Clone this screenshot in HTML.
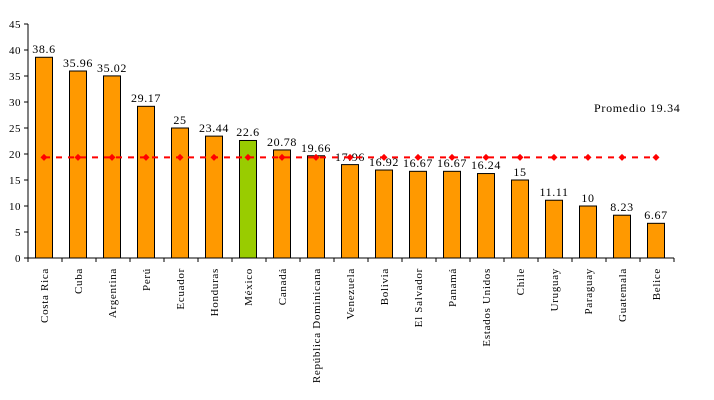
<!DOCTYPE html>
<html><head><meta charset="utf-8"><style>
html,body{margin:0;padding:0;background:#fff;}
svg{display:block;font-family:"Liberation Serif",serif;}
</style></head><body>
<svg width="714" height="400" viewBox="0 0 714 400" xmlns="http://www.w3.org/2000/svg">
<defs><path id="d" d="M-3.5 0L0 -3.5L3.5 0L0 3.5Z" fill="#FF0000"/></defs>
<g stroke="#000" stroke-width="1">
<line x1="28" y1="24" x2="28" y2="258"/>
<line x1="28" y1="258" x2="674" y2="258"/>
<line x1="24" y1="258" x2="28" y2="258"/><line x1="24" y1="232" x2="28" y2="232"/><line x1="24" y1="206" x2="28" y2="206"/><line x1="24" y1="180" x2="28" y2="180"/><line x1="24" y1="154" x2="28" y2="154"/><line x1="24" y1="128" x2="28" y2="128"/><line x1="24" y1="102" x2="28" y2="102"/><line x1="24" y1="76" x2="28" y2="76"/><line x1="24" y1="50" x2="28" y2="50"/><line x1="24" y1="24" x2="28" y2="24"/>
<line x1="28" y1="258" x2="28" y2="262"/><line x1="62" y1="258" x2="62" y2="262"/><line x1="96" y1="258" x2="96" y2="262"/><line x1="130" y1="258" x2="130" y2="262"/><line x1="164" y1="258" x2="164" y2="262"/><line x1="198" y1="258" x2="198" y2="262"/><line x1="232" y1="258" x2="232" y2="262"/><line x1="266" y1="258" x2="266" y2="262"/><line x1="300" y1="258" x2="300" y2="262"/><line x1="334" y1="258" x2="334" y2="262"/><line x1="368" y1="258" x2="368" y2="262"/><line x1="402" y1="258" x2="402" y2="262"/><line x1="436" y1="258" x2="436" y2="262"/><line x1="470" y1="258" x2="470" y2="262"/><line x1="504" y1="258" x2="504" y2="262"/><line x1="538" y1="258" x2="538" y2="262"/><line x1="572" y1="258" x2="572" y2="262"/><line x1="606" y1="258" x2="606" y2="262"/><line x1="640" y1="258" x2="640" y2="262"/><line x1="674" y1="258" x2="674" y2="262"/>
</g>
<g font-size="11" text-anchor="end" letter-spacing="0.5">
<text x="21" y="262">0</text><text x="21" y="236">5</text><text x="21" y="210">10</text><text x="21" y="184">15</text><text x="21" y="158">20</text><text x="21" y="132">25</text><text x="21" y="106">30</text><text x="21" y="80">35</text><text x="21" y="54">40</text><text x="21" y="28">45</text>
</g>
<g fill="#FF9900" stroke="#000" stroke-width="1">
<rect x="35.5" y="57.28" width="17" height="200.72"/>
<rect x="69.5" y="71.01" width="17" height="186.99"/>
<rect x="103.5" y="75.9" width="17" height="182.1"/>
<rect x="137.5" y="106.32" width="17" height="151.68"/>
<rect x="171.5" y="128" width="17" height="130"/>
<rect x="205.5" y="136.11" width="17" height="121.89"/>
<rect x="239.5" y="140.48" width="17" height="117.52" fill="#99CC00"/>
<rect x="273.5" y="149.94" width="17" height="108.06"/>
<rect x="307.5" y="155.77" width="17" height="102.23"/>
<rect x="341.5" y="164.61" width="17" height="93.39"/>
<rect x="375.5" y="170.02" width="17" height="87.98"/>
<rect x="409.5" y="171.32" width="17" height="86.68"/>
<rect x="443.5" y="171.32" width="17" height="86.68"/>
<rect x="477.5" y="173.55" width="17" height="84.45"/>
<rect x="511.5" y="180" width="17" height="78"/>
<rect x="545.5" y="200.23" width="17" height="57.77"/>
<rect x="579.5" y="206" width="17" height="52"/>
<rect x="613.5" y="215.2" width="17" height="42.8"/>
<rect x="647.5" y="223.32" width="17" height="34.68"/>
</g>
<g font-size="12" text-anchor="middle" letter-spacing="0.6">
<text x="44" y="53">38.6</text><text x="78" y="67">35.96</text><text x="112" y="72">35.02</text><text x="146" y="102">29.17</text><text x="180" y="124">25</text><text x="214" y="132">23.44</text><text x="248" y="136">22.6</text><text x="282" y="146">20.78</text><text x="316" y="152">19.66</text><text x="350" y="161">17.96</text><text x="384" y="166">16.92</text><text x="418" y="167">16.67</text><text x="452" y="167">16.67</text><text x="486" y="169">16.24</text><text x="520" y="176">15</text><text x="554" y="196">11.11</text><text x="588" y="202">10</text><text x="622" y="211">8.23</text><text x="656" y="219">6.67</text>
</g>
<g font-size="11" text-anchor="end" letter-spacing="0.7">
<text transform="translate(48,268) rotate(-90)">Costa Rica</text>
<text transform="translate(82,268) rotate(-90)">Cuba</text>
<text transform="translate(116,268) rotate(-90)">Argentina</text>
<text transform="translate(150,268) rotate(-90)">Perú</text>
<text transform="translate(184,268) rotate(-90)">Ecuador</text>
<text transform="translate(218,268) rotate(-90)">Honduras</text>
<text transform="translate(252,268) rotate(-90)">México</text>
<text transform="translate(286,268) rotate(-90)">Canadá</text>
<text transform="translate(320,268) rotate(-90)">República Dominicana</text>
<text transform="translate(354,268) rotate(-90)">Venezuela</text>
<text transform="translate(388,268) rotate(-90)">Bolivia</text>
<text transform="translate(422,268) rotate(-90)">El Salvador</text>
<text transform="translate(456,268) rotate(-90)">Panamá</text>
<text transform="translate(490,268) rotate(-90)">Estados Unidos</text>
<text transform="translate(524,268) rotate(-90)">Chile</text>
<text transform="translate(558,268) rotate(-90)">Uruguay</text>
<text transform="translate(592,268) rotate(-90)">Paraguay</text>
<text transform="translate(626,268) rotate(-90)">Guatemala</text>
<text transform="translate(660,268) rotate(-90)">Belice</text>
</g>
<line x1="44" y1="157.4" x2="656" y2="157.4" stroke="#FF0000" stroke-width="2" stroke-dasharray="6,6"/>
<g transform="translate(0,157.4)">
<use href="#d" x="44"/><use href="#d" x="78"/><use href="#d" x="112"/><use href="#d" x="146"/><use href="#d" x="180"/><use href="#d" x="214"/><use href="#d" x="248"/><use href="#d" x="282"/><use href="#d" x="316"/><use href="#d" x="350"/><use href="#d" x="384"/><use href="#d" x="418"/><use href="#d" x="452"/><use href="#d" x="486"/><use href="#d" x="520"/><use href="#d" x="554"/><use href="#d" x="588"/><use href="#d" x="622"/><use href="#d" x="656"/>
</g>
<text x="594" y="112" font-size="12" letter-spacing="0.7">Promedio 19.34</text>
</svg>
</body></html>
